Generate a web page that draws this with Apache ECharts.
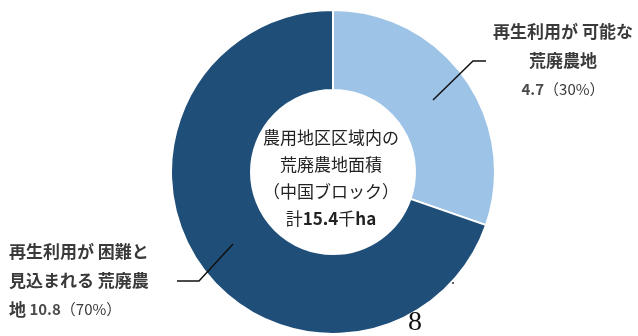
<!DOCTYPE html>
<html>
<head>
<meta charset="utf-8">
<script src="https://cdn.jsdelivr.net/npm/echarts@6/dist/echarts.min.js"></script>
<style>
  html, body { margin: 0; padding: 0; background: #ffffff; }
  #chart { width: 638px; height: 336px; }
</style>
</head>
<body>
<div id="chart"></div>
<script>
// Abandoned farmland inside agricultural promotion areas (Chugoku block), thousand ha
const categories = ['再生利用が可能な荒廃農地', '再生利用が困難と見込まれる荒廃農地'];
const values = [4.7, 10.8];
const shares = [30, 70];
// how each category name is broken across lines in its callout
const nameLines = [
  ['再生利用が 可能な', '荒廃農地'],
  ['再生利用が 困難と', '見込まれる 荒廃農', '地']
];
const sliceColors = ['#9dc3e6', '#1f4e79'];
const centerLines = ['農用地区区域内の', '荒廃農地面積', '（中国ブロック）'];
const totalValue = 15.4;
const pageNumber = '8';

const FONT = '"Noto Sans CJK JP", "Noto Sans", sans-serif';

function calloutText(i) {
  const lines = nameLines[i].map(s => '{b|' + s + '}');
  const val = '{v|' + values[i].toFixed(1) + '}{p|（' + shares[i] + '%）}';
  if (i === 0) {
    return lines.join('\n') + '\n' + val;
  }
  lines[lines.length - 1] = lines[lines.length - 1] + '{v| }' + val;
  return lines.join('\n');
}

// callout placement per slice
const callouts = [
  { x: 563, y: 17, align: 'center' },
  { x: 9, y: 237, align: 'left' }
];
// leader lines from each slice to its callout
const leaders = [
  [[433, 100], [473, 61], [486, 61]],
  [[233, 244], [199, 281], [177, 281]]
];

const chart = echarts.init(document.getElementById('chart'), null, { renderer: 'canvas' });

const centerText = centerLines.map(s => '{n|' + s + '}').join('\n') +
  '\n{n|計}{d|' + totalValue.toFixed(1) + '}{n|千}{d|ha}';

chart.setOption({
  backgroundColor: '#ffffff',
  animation: false,
  series: [{
    type: 'pie',
    center: [333, 172],
    radius: [82, 162],
    startAngle: 90,
    clockwise: true,
    silent: true,
    itemStyle: { borderColor: '#ffffff', borderWidth: 2 },
    label: {
      show: true,
      position: 'outside',
      alignTo: 'none',
      overflow: 'none',
      width: 200,
      formatter: p => calloutText(p.dataIndex),
      color: '#3a3a3a',
      rich: {
        b: { fontFamily: FONT, fontSize: 17, fontWeight: 'bold', color: '#3a3a3a', lineHeight: 29 },
        v: { fontFamily: FONT, fontSize: 15, fontWeight: 'bold', color: '#4a4a4a', lineHeight: 29 },
        p: { fontFamily: FONT, fontSize: 15, fontWeight: 'normal', color: '#3a3a3a', lineHeight: 29 }
      }
    },
    labelLine: { show: false },
    labelLayout: p => {
      const c = callouts[p.dataIndex];
      return { x: c.x, y: c.y, align: c.align, verticalAlign: 'top' };
    },
    data: categories.map((name, i) => ({
      name: name,
      value: values[i],
      itemStyle: { color: sliceColors[i] }
    }))
  }],
  graphic: [
    ...leaders.map(pts => ({
      type: 'polyline',
      z: 100,
      shape: { points: pts },
      style: { stroke: '#111111', lineWidth: 1.5, fill: null }
    })),
    {
      type: 'text',
      z: 100,
      x: 331,
      y: 124,
      style: {
        text: centerText,
        align: 'center',
        verticalAlign: 'top',
        rich: {
          n: { fontFamily: FONT, fontSize: 17, fontWeight: 'normal', fill: '#222222', lineHeight: 27 },
          d: { fontFamily: FONT, fontSize: 17, fontWeight: 'bold', fill: '#222222', lineHeight: 27 }
        }
      }
    },
    {
      type: 'text',
      z: 100,
      x: 415,
      y: 323,
      style: {
        text: pageNumber,
        font: '28px "Liberation Serif", "DejaVu Serif", serif',
        fill: '#111111',
        align: 'center',
        verticalAlign: 'middle'
      }
    },
    {
      type: 'circle',
      z: 100,
      shape: { cx: 453, cy: 283, r: 1 },
      style: { fill: '#333333' }
    }
  ]
});
</script>
</body>
</html>
